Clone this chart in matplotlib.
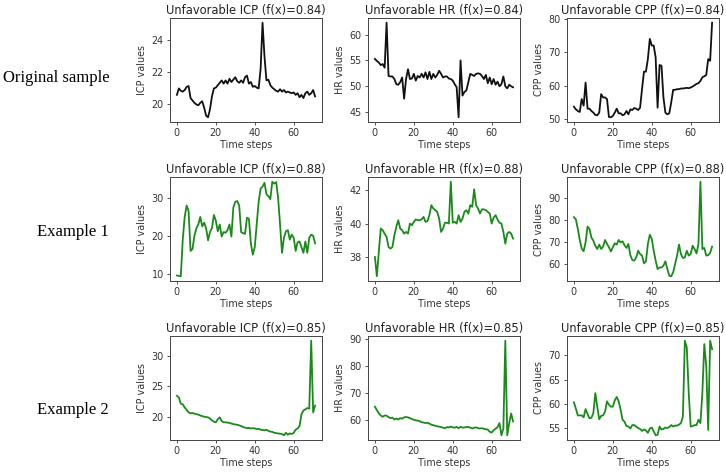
import matplotlib
matplotlib.use('Agg')
import matplotlib.pyplot as plt
import numpy as np

# ---- data (72 time steps each) ----
icp_orig = [20.6, 21.0, 20.85, 20.8, 20.9, 21.1, 21.15, 20.4, 20.25, 20.1, 20.0, 19.95, 20.1, 20.2, 19.8, 19.3,
            19.2, 19.7, 20.5, 21.0, 21.05, 21.2, 21.35, 21.5, 21.3, 21.5, 21.3, 21.6, 21.4, 21.55, 21.7, 21.45,
            21.35, 21.5, 21.35, 21.7, 21.8, 21.3, 21.4, 21.1, 21.15, 21.05, 21.0, 22.2, 25.1, 23.0, 21.5, 21.55,
            21.2, 21.05, 20.95, 20.85, 20.8, 20.95, 20.8, 20.9, 20.75, 20.8, 20.75, 20.7, 20.75, 20.6, 20.7, 20.45,
            20.6, 20.4, 20.7, 20.8, 20.6, 20.7, 20.9, 20.5]
hr_orig = [55.3, 54.9, 54.6, 54.1, 54.3, 53.6, 62.3, 52.0, 51.9, 51.9, 51.4, 50.4, 50.3, 50.8, 51.7, 47.6,
           51.4, 53.3, 51.4, 51.5, 52.4, 51.1, 52.0, 51.7, 52.4, 51.7, 52.7, 51.4, 52.8, 51.4, 52.4, 51.7,
           52.2, 53.0, 52.4, 51.7, 51.9, 51.9, 51.5, 51.4, 51.1, 50.4, 49.8, 44.0, 55.0, 48.2, 48.9, 49.2,
           50.8, 52.4, 52.2, 52.0, 52.4, 52.5, 52.4, 52.0, 51.4, 52.2, 50.6, 51.7, 50.4, 51.4, 50.3, 50.9,
           50.0, 50.4, 51.9, 50.0, 49.6, 50.3, 50.0, 49.8]
cpp_orig = [53.6, 52.8, 52.3, 52.0, 55.9, 53.9, 60.9, 53.0, 53.0, 52.3, 51.8, 51.1, 51.0, 51.8, 57.4, 56.4,
            56.4, 55.9, 50.5, 50.4, 50.8, 51.8, 53.0, 51.6, 51.6, 51.0, 51.3, 52.3, 51.3, 52.8, 52.6, 53.2,
            53.0, 52.6, 53.3, 58.9, 64.2, 64.2, 68.0, 74.1, 72.1, 72.1, 68.5, 53.3, 66.2, 66.0, 56.4, 51.8,
            51.3, 51.6, 54.9, 58.7, 58.7, 58.9, 58.9, 59.1, 59.1, 59.2, 59.3, 59.2, 59.4, 59.7, 60.1, 60.5,
            60.7, 61.4, 62.5, 62.8, 63.2, 68.0, 67.5, 79.0]

icp_ex1 = [9.5, 9.4, 9.3, 19.0, 25.0, 28.0, 26.5, 16.0, 16.5, 20.0, 22.0, 23.0, 25.0, 22.5, 23.5, 22.0,
           18.8, 21.0, 22.0, 25.5, 24.0, 21.2, 23.0, 19.8, 21.0, 20.8, 21.5, 23.0, 19.8, 27.5, 29.0, 29.2,
           28.0, 21.0, 20.7, 20.5, 24.8, 24.5, 18.0, 15.0, 17.0, 23.0, 29.0, 32.5, 33.0, 34.0, 31.0, 30.5,
           29.7, 34.3, 33.8, 34.2, 30.0, 23.0, 15.5, 19.5, 21.2, 21.5, 19.0, 20.3, 19.5, 16.0, 18.3, 18.5,
           17.0, 15.5, 18.5, 15.5, 19.5, 20.3, 20.0, 18.0]
hr_ex1 = [38.0, 36.85, 38.3, 39.7, 39.6, 39.4, 39.2, 38.6, 38.5, 38.6, 39.3, 39.8, 40.2, 39.7, 39.6, 39.4,
          39.5, 39.4, 40.0, 39.9, 40.1, 40.25, 40.2, 40.2, 40.25, 40.4, 40.1, 40.15, 40.5, 41.1, 40.9, 40.8,
          40.7, 40.3, 39.5, 39.7, 40.05, 40.05, 40.0, 42.5, 40.05, 40.1, 40.0, 40.5, 40.1, 40.3, 40.7, 40.8,
          40.6, 41.1, 41.0, 42.05, 41.1, 40.9, 40.6, 40.85, 40.85, 40.8, 40.7, 40.6, 40.0, 40.35, 40.5, 40.25,
          40.05, 40.0, 39.5, 38.8, 39.4, 39.5, 39.4, 39.1]
cpp_ex1 = [81.3, 80.3, 76.0, 71.0, 67.0, 65.8, 69.8, 77.0, 75.9, 72.0, 70.6, 68.3, 66.8, 68.8, 66.8, 67.9,
           70.9, 69.2, 67.6, 65.7, 67.6, 69.4, 68.8, 70.9, 69.8, 70.3, 68.5, 67.3, 69.1, 64.0, 61.8, 61.5,
           63.0, 66.0, 64.5, 63.8, 60.3, 61.2, 69.1, 73.3, 71.4, 66.0, 61.5, 57.7, 58.4, 58.4, 59.2, 61.2,
           57.7, 54.6, 54.4, 56.2, 60.0, 63.8, 68.8, 64.5, 62.7, 63.0, 66.0, 63.8, 64.5, 68.3, 66.8, 64.8,
           69.1, 97.4, 66.8, 67.3, 63.8, 64.0, 65.0, 67.9]

icp_ex2 = [23.5, 23.2, 22.2, 22.1, 21.6, 21.2, 20.8, 20.65, 20.7, 20.6, 20.5, 20.45, 20.3, 20.2, 20.1, 20.05,
           20.0, 19.8, 19.5, 19.3, 19.2, 19.7, 20.0, 19.4, 19.2, 19.2, 19.15, 19.1, 19.0, 18.9, 18.85, 18.8,
           18.7, 18.6, 18.45, 18.35, 18.25, 18.3, 18.2, 18.25, 18.2, 18.1, 18.15, 18.0, 17.95, 17.9, 18.0, 17.8,
           17.7, 17.65, 17.5, 17.45, 17.4, 17.35, 17.3, 17.1, 17.5, 17.2, 17.4, 17.3, 17.5, 18.0, 18.2, 18.6,
           20.5, 21.1, 21.3, 21.5, 21.4, 32.4, 20.8, 21.9]
hr_ex2 = [65.0, 63.8, 62.6, 61.8, 61.3, 61.8, 61.7, 61.2, 60.8, 61.0, 60.3, 60.7, 60.3, 60.8, 60.6, 61.1,
          61.2, 61.1, 60.8, 60.5, 60.2, 60.0, 59.9, 59.7, 59.3, 59.2, 59.0, 59.1, 58.8, 58.4, 58.2, 58.0,
          57.8, 57.7, 57.5, 57.3, 57.1, 57.5, 57.4, 57.7, 57.4, 57.3, 57.6, 57.1, 57.6, 57.3, 57.4, 57.5,
          57.6, 57.3, 57.0, 57.3, 57.4, 57.1, 57.0, 57.1, 56.9, 56.7, 56.6, 55.8, 55.5, 56.4, 56.9, 57.5,
          59.0, 54.5, 57.0, 89.3, 54.5, 59.0, 62.5, 59.6]
cpp_ex2 = [60.3, 59.0, 57.6, 57.6, 57.6, 57.2, 58.9, 57.9, 57.0, 57.1, 58.1, 62.2, 59.4, 56.8, 57.5, 57.6,
           58.4, 60.5, 59.8, 59.4, 59.4, 60.7, 61.4, 60.5, 58.75, 56.7, 56.3, 55.4, 55.3, 54.9, 55.6, 55.6,
           55.3, 55.0, 54.8, 54.4, 54.7, 54.5, 54.0, 54.9, 55.1, 54.3, 53.5, 53.6, 55.3, 54.7, 54.8, 55.1,
           55.0, 55.2, 55.6, 55.3, 55.5, 55.5, 55.7, 56.0, 57.4, 73.0, 71.6, 62.2, 55.3, 55.4, 55.6, 55.6,
           56.7, 56.0, 62.2, 72.3, 67.8, 54.6, 73.0, 71.25]

row_labels = ['Original sample', 'Example 1', 'Example 2']
row_scores = ['0.84', '0.88', '0.85']
signals = ['ICP', 'HR', 'CPP']
rows = [[icp_orig, hr_orig, cpp_orig],
        [icp_ex1, hr_ex1, cpp_ex1],
        [icp_ex2, hr_ex2, cpp_ex2]]
row_colors = ['#111111', '#1a8a1a', '#1a8a1a']

W, H = 726, 474
fig = plt.figure(figsize=(W / 100, H / 100), dpi=100)

col_left = [170, 368, 567]   # pixel positions of axes
row_top = [18, 177, 336]
ax_w, ax_h = 152, 104

for r in range(3):
    for c in range(3):
        left = col_left[c] / W
        bottom = 1 - (row_top[r] + ax_h) / H
        ax = fig.add_axes([left, bottom, ax_w / W, ax_h / H])
        y = rows[r][c]
        ax.plot(np.arange(len(y)), y, color=row_colors[r], lw=1.3)
        ax.set_title('Unfavorable %s (f(x)=%s)' % (signals[c], row_scores[r]),
                     fontsize=8.3, pad=3, color='#222222')
        ax.set_xlabel('Time steps', fontsize=6.9, labelpad=1.5, color='#333333')
        ax.set_ylabel('%s values' % signals[c], fontsize=6.9, labelpad=3, color='#333333')
        ax.set_xticks([0, 20, 40, 60])
        ax.tick_params(labelsize=6.9, length=2.5, width=0.6, pad=2, colors='#333333')
        for s in ax.spines.values():
            s.set_color('#444444')
            s.set_linewidth(0.7)

# row names on the left, serif
fig.text(3 / W, 1 - 78 / H, row_labels[0], fontsize=12, family='Liberation Serif', va='center', ha='left')
fig.text(109 / W, 1 - 232 / H, row_labels[1], fontsize=12, family='Liberation Serif', va='center', ha='right')
fig.text(109 / W, 1 - 410 / H, row_labels[2], fontsize=12, family='Liberation Serif', va='center', ha='right')

plt.savefig('out.png', dpi=100)
